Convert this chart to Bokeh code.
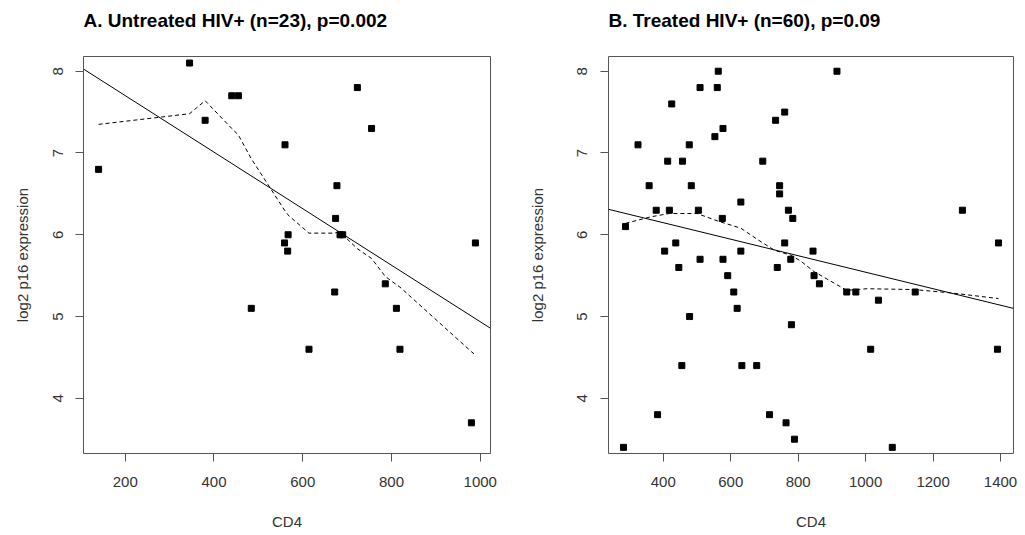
from bokeh.plotting import figure
from bokeh.layouts import row
from bokeh.models import Range1d, FixedTicker, Title
from bokeh.embed import file_html
from bokeh.resources import INLINE

# ---------------- data ----------------
a_title = "A. Untreated HIV+ (n=23), p=0.002"
a_cd4 = [140, 345, 380, 440, 455, 484, 559, 560, 566, 567, 614, 672, 674, 677,
         684, 690, 723, 755, 786, 811, 819, 980, 989]
a_p16 = [6.8, 8.1, 7.4, 7.7, 7.7, 5.1, 5.9, 7.1, 5.8, 6.0, 4.6, 5.3, 6.2, 6.6,
         6.0, 6.0, 7.8, 7.3, 5.4, 5.1, 4.6, 3.7, 5.9]
a_lowess_x = [140, 345, 380, 440, 455, 484, 559, 566, 567, 614, 672, 677, 688,
              723, 755, 786, 811, 819, 980, 989]
a_lowess_y = [7.35, 7.48, 7.64, 7.30, 7.22, 6.93, 6.30, 6.25, 6.24, 6.02, 6.02,
              6.03, 6.01, 5.83, 5.71, 5.49, 5.39, 5.36, 4.57, 4.53]
a_intercept = 8.393
a_slope = -0.003457
a_xticks = [200, 400, 600, 800, 1000]

b_title = "B. Treated HIV+ (n=60), p=0.09"
b_cd4 = [288, 325, 358, 379, 418, 413, 425, 457, 477, 483, 504, 509, 553, 560,
         563, 577, 575, 630, 695, 733, 760, 745, 745, 771, 784, 915, 1287, 1394,
         404, 437, 446, 509, 577, 630, 760, 738, 778, 844, 591, 609, 619, 478,
         780, 847, 863, 944, 971, 1038, 1147, 1015, 1391, 455, 633, 677, 383,
         715, 764, 789, 282, 1079]
b_p16 = [6.1, 7.1, 6.6, 6.3, 6.3, 6.9, 7.6, 6.9, 7.1, 6.6, 6.3, 7.8, 7.2, 7.8,
         8.0, 7.3, 6.2, 6.4, 6.9, 7.4, 7.5, 6.6, 6.5, 6.3, 6.2, 8.0, 6.3, 5.9,
         5.8, 5.9, 5.6, 5.7, 5.7, 5.8, 5.9, 5.6, 5.7, 5.8, 5.5, 5.3, 5.1, 5.0,
         4.9, 5.5, 5.4, 5.3, 5.3, 5.2, 5.3, 4.6, 4.6, 4.4, 4.4, 4.4, 3.8,
         3.8, 3.7, 3.5, 3.4, 3.4]
b_lowess_x = [288, 364, 418, 500, 560, 630, 680, 730, 778, 807, 847, 944, 1004,
              1142, 1251, 1394]
b_lowess_y = [6.14, 6.22, 6.26, 6.26, 6.17, 6.08, 5.94, 5.81, 5.75, 5.68, 5.55,
              5.32, 5.34, 5.33, 5.29, 5.22]
b_intercept = 6.551
b_slope = -0.001009
b_xticks = [400, 600, 800, 1000, 1200, 1400]

y_ticks = [4, 5, 6, 7, 8]
x_label = "CD4"
y_label = "log2 p16 expression"

FONT = "Liberation Sans"
TXT = "#333333"
BOX = "#555555"

H = 534
TOP = 56
BOTTOM = 81


def make(title, x, y, lx, ly, icpt, slope, xr, xticks, w, bl, br,
         ylab_standoff, ytick_standoff):
    p = figure(width=w, height=H, output_backend="svg", toolbar_location=None,
               title=None,
               x_range=Range1d(*xr), y_range=Range1d(3.325, 8.18),
               min_border_left=bl, min_border_right=br,
               min_border_top=TOP, min_border_bottom=BOTTOM,
               background_fill_color="white", border_fill_color="white")

    # spacer between the frame and the title (closest to the frame)
    p.add_layout(Title(text=" ", text_font_size="2px", standoff=22), "above")
    p.add_layout(Title(text=title, text_font=FONT, text_font_size="19px",
                       text_font_style="bold", text_color="black",
                       align="left", standoff=0), "above")

    p.outline_line_color = BOX
    p.outline_line_width = 1
    p.xgrid.visible = False
    p.ygrid.visible = False

    for ax in (p.xaxis[0], p.yaxis[0]):
        ax.axis_line_color = None
        ax.major_tick_in = 0
        ax.major_tick_out = 8
        ax.major_tick_line_color = BOX
        ax.minor_tick_line_color = None
        ax.major_label_text_font = FONT
        ax.major_label_text_font_size = "15px"
        ax.major_label_text_color = TXT
        ax.axis_label_text_font = FONT
        ax.axis_label_text_font_size = "15px"
        ax.axis_label_text_font_style = "normal"
        ax.axis_label_text_color = TXT

    p.xaxis.ticker = FixedTicker(ticks=xticks, minor_ticks=[])
    p.yaxis.ticker = FixedTicker(ticks=y_ticks, minor_ticks=[])
    p.xaxis.axis_label = x_label
    p.yaxis.axis_label = y_label
    p.xaxis.major_label_standoff = 15
    p.xaxis.axis_label_standoff = 23
    p.yaxis.major_label_orientation = "vertical"
    p.yaxis.major_label_standoff = ytick_standoff
    p.yaxis.axis_label_standoff = ylab_standoff

    x0, x1 = xr
    p.line([x0, x1], [icpt + slope * x0, icpt + slope * x1],
           line_color="black", line_width=1)
    p.line(lx, ly, line_color="black", line_width=1, line_dash="4 3")
    p.scatter(x, y, marker="square", size=6, fill_color="black",
              line_color="black", line_width=1)
    return p


pa = make(a_title, a_cd4, a_p16, a_lowess_x, a_lowess_y, a_intercept, a_slope,
          (106, 1023), a_xticks, 518, 83, 28, 20, 12)
pb = make(b_title, b_cd4, b_p16, b_lowess_x, b_lowess_y, b_intercept, b_slope,
          (237.5, 1438.5), b_xticks, 506, 90, 11, 29, 13)

layout = row(pa, pb)
open("out.html", "w").write(file_html(layout, INLINE))
